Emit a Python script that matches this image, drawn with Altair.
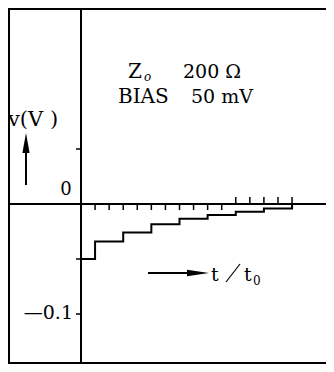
import altair as alt
import pandas as pd

# ---- data ----
step_t = [0, 1, 3, 5, 7, 9, 11, 13, 15, 15]
step_v = [-0.050, -0.034, -0.026, -0.0185, -0.0135, -0.010, -0.007, -0.004, -0.004, 0.0]

xtick_down = [1, 2, 3, 4, 5, 6, 7, 8, 9, 10]
xtick_up = [11, 12, 13, 14, 15]
ytick_vals = [0.05, -0.05, -0.1]

# ---- geometry ----
PX_T = 14.07     # px per t unit
PX_V = 1100.0    # px per volt
ORIG_X, ORIG_Y = 81, 204   # page position of the origin
LEFT, TOP = 8, 8           # page position of plot area
W, H = 318, 356


def px(x, y):
    # page pixel -> data coordinates
    return (x - ORIG_X) / PX_T, (ORIG_Y - y) / PX_V


xdom = [px(LEFT, 0)[0], px(LEFT + W, 0)[0]]
ydom = [px(0, TOP + H)[1], px(0, TOP)[1]]

xs = alt.Scale(domain=xdom, nice=False, zero=False)
ys = alt.Scale(domain=ydom, nice=False, zero=False)


def X(f):
    return alt.X(f, type="quantitative", scale=xs, axis=None)


def Y(f):
    return alt.Y(f, type="quantitative", scale=ys, axis=None)


FONT = "DejaVu Serif"

steps = pd.DataFrame({"t": step_t, "v": step_v})
stair = alt.Chart(steps).mark_line(interpolate="step-after", color="black", strokeWidth=2).encode(
    x=X("t"), y=Y("v"))


def hline(v, w=2):
    return alt.Chart(pd.DataFrame({"v": [v]})).mark_rule(color="black", strokeWidth=w).encode(y=Y("v"))


def vline(t, w=2):
    return alt.Chart(pd.DataFrame({"t": [t]})).mark_rule(color="black", strokeWidth=w).encode(x=X("t"))


zero_line = hline(0.0)
v_axis = vline(0.0)
frame = [vline(px(9, 0)[0], 2), hline(px(0, 9)[1], 2), hline(px(0, 363)[1], 2)]

td = pd.DataFrame({"t": xtick_down, "a": [0.0] * len(xtick_down), "b": [-6 / PX_V] * len(xtick_down)})
tu = pd.DataFrame({"t": xtick_up, "a": [0.0] * len(xtick_up), "b": [7 / PX_V] * len(xtick_up)})
ticks_x = alt.Chart(pd.concat([td, tu])).mark_rule(color="black", strokeWidth=1.5).encode(
    x=X("t"), y=Y("a"), y2="b")

ty = pd.DataFrame({"v": ytick_vals, "a": [0.0] * 3, "b": [-5 / PX_T] * 3})
ticks_y = alt.Chart(ty).mark_rule(color="black", strokeWidth=1.5).encode(
    x=X("a"), x2="b", y=Y("v"))


def text(s, x, y, size=19, align="left", baseline="alphabetic", style="normal"):
    t, v = px(x, y)
    return alt.Chart(pd.DataFrame({"t": [t], "v": [v], "s": [s]})).mark_text(
        font=FONT, fontSize=size, align=align, baseline=baseline, color="black", fontStyle=style
    ).encode(x=X("t"), y=Y("v"), text="s:N")


def seg(x1, y1, x2, y2, w=2):
    a, b = px(x1, y1)
    c, d = px(x2, y2)
    return alt.Chart(pd.DataFrame({"t": [a], "v": [b], "t2": [c], "v2": [d]})).mark_rule(
        color="black", strokeWidth=w).encode(x=X("t"), y=Y("v"), x2="t2", y2="v2")


def head(x, y, shape, size):
    t, v = px(x, y)
    return alt.Chart(pd.DataFrame({"t": [t], "v": [v]})).mark_point(
        shape=shape, filled=True, size=size, color="black", opacity=1, strokeWidth=0
    ).encode(x=X("t"), y=Y("v"))


labels = [
    text("Z", 128, 78, size=20),
    text("o", 144, 81, size=12, style="italic"),
    text("200 Ω", 183, 78, size=19),
    text("BIAS", 118, 103, size=20),
    text("50 mV", 191, 103, size=19),
    text("v(V )", 8, 126, size=21),
    text("0", 66, 190, size=18, align="center", baseline="middle"),
    text("—0.1", 73, 313, size=19, align="right", baseline="middle"),
    text("t", 211, 281, size=19),
    seg(226, 282, 240, 264, w=1.2),
    text("t", 244, 281, size=19),
    text("0", 253, 285, size=12),
]

arrows = [
    seg(26, 185, 26, 150),
    head(26, 143, "M0,-1L0.36,1L-0.36,1Z", 400),
    seg(148, 273, 192, 273),
    head(198, 273, "M1,0L-1,0.3L-1,-0.3Z", 484),
]

chart = alt.layer(*frame, zero_line, v_axis, ticks_x, ticks_y, stair, *labels, *arrows).properties(
    width=W, height=H, autosize=alt.AutoSizeParams(type="none"), padding=0
).configure_view(strokeWidth=0, stroke="transparent")

chart.save("out.html", embed_options={"renderer": "svg", "actions": False})
